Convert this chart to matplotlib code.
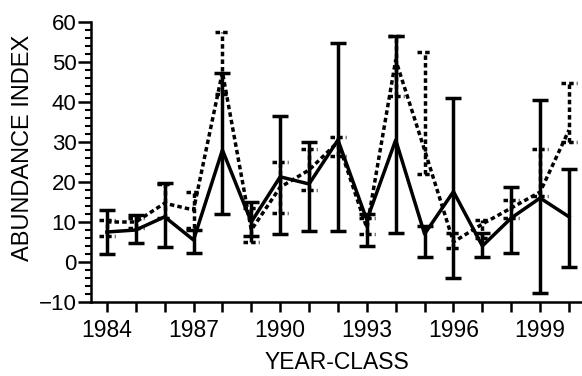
import matplotlib
matplotlib.use("Agg")
import matplotlib.pyplot as plt
import numpy as np
from matplotlib.ticker import MultipleLocator

plt.rcParams['font.family'] = ['Liberation Sans', 'DejaVu Sans']

# Data
years = list(range(1984, 2001))
solid_mean = [7.5, 8, 11.3, 5.5, 28, 10, 21.3, 19.5, 30.5, 10.5, 30.5, 7, 17.6, 4, 11, 16, 11.3]
solid_lo = [2, 4.8, 3.7, 2.3, 12, 6.5, 6.9, 7.8, 7.8, 4, 7.2, 1.3, -4.1, 1.3, 2.3, -7.8, -1.3]
solid_hi = [13, 11.8, 19.8, 8, 47.3, 15, 36.6, 30, 54.7, 12, 56.5, 9, 41, 7.2, 18.8, 40.5, 23.2]

dot_mean = [10, 10, 14.7, 13, 47.5, 8, 18.7, 23, 30, 8.5, 50.5, 28, 5, 9.5, 13.5, 17.5, 33]
dot_lo = [6.5, 8.5, 11, 8.5, 42, 5, 12.2, 18, 26.5, 7, 41.5, 22, 3.5, 6, 11, 16.5, 30]
dot_hi = [10.5, 11, 19.5, 17.5, 57.5, 13.5, 25, 28.2, 31.3, 11, 56.5, 52.5, 7.2, 10.5, 15.5, 28.2, 44.8]

fig = plt.figure(figsize=(5.82, 3.76), dpi=100)
ax = fig.add_axes([91 / 582, 74 / 376, 491 / 582, 280 / 376])

x = np.array(years)
lw = 2.5
dots = (0, (1.3, 0.9))

# solid series
s_err = [np.array(solid_mean) - np.array(solid_lo), np.array(solid_hi) - np.array(solid_mean)]
ax.errorbar(x, solid_mean, yerr=s_err, color='black', lw=lw, elinewidth=lw,
            capsize=5.5, capthick=lw, zorder=3)

# dotted series
d_err = [np.array(dot_mean) - np.array(dot_lo), np.array(dot_hi) - np.array(dot_mean)]
eb = ax.errorbar(x, dot_mean, yerr=d_err, color='black', lw=lw, elinewidth=lw,
                 capsize=0, ls=dots, zorder=2)
eb[2][0].set_linestyle(dots)
ax.hlines(dot_lo, x - 0.27, x + 0.27, colors='black', lw=lw, linestyles=dots, zorder=2)
ax.hlines(dot_hi, x - 0.27, x + 0.27, colors='black', lw=lw, linestyles=dots, zorder=2)

ax.set_xlim(1983.45, 2000.45)
ax.set_ylim(-10, 60)

ax.set_xticks(years)
ax.set_xticklabels([str(y) if (y - 1984) % 3 == 0 else '' for y in years], fontsize=16.5)
ax.yaxis.set_major_locator(MultipleLocator(10))
ax.yaxis.set_minor_locator(MultipleLocator(2))
ax.tick_params(axis='y', which='major', length=9.5, width=1.8, labelsize=16, pad=1)
ax.tick_params(axis='y', which='minor', length=4, width=1.5)
ax.tick_params(axis='x', length=7, width=1.8, pad=5)

for side in ['top', 'right']:
    ax.spines[side].set_visible(False)
for side in ['left', 'bottom']:
    ax.spines[side].set_linewidth(1.8)

ax.set_xlabel('YEAR-CLASS', fontsize=16.5, labelpad=7)
ax.set_ylabel('ABUNDANCE INDEX', fontsize=17, labelpad=3)
ax.yaxis.label.set_y(0.55)

fig.savefig('out.png', dpi=100)
